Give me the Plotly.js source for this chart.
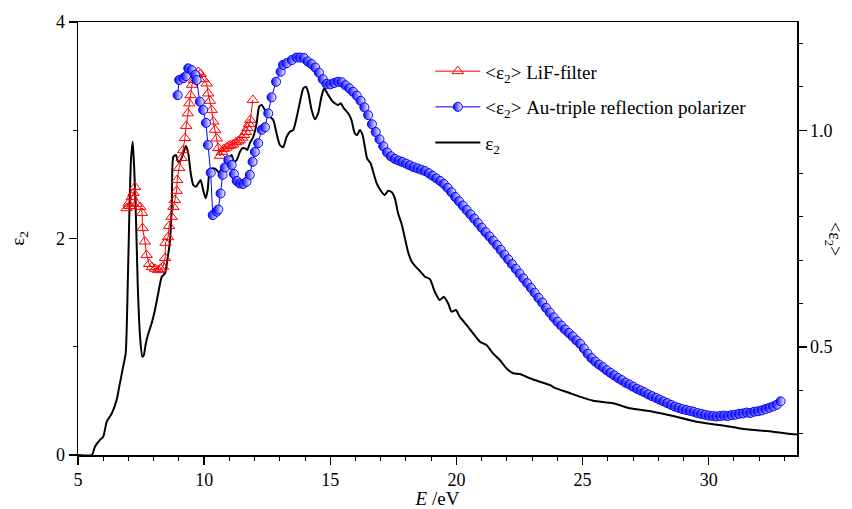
<!DOCTYPE html>
<html>
<head>
<meta charset="utf-8">
<script src="https://cdn.plot.ly/plotly-3.0.1.min.js"></script>
<style>html,body{margin:0;padding:0;background:#fff;}#chart{width:852px;height:509px;}</style>
</head>
<body>
<div id="chart"></div>
<script>
// Black curve: epsilon_2 (left axis)
const blackE = [5.00,5.55,5.67,5.87,6.00,6.14,6.34,6.53,6.66,6.79,6.89,6.97,7.03,7.10,7.17,7.23,7.30,7.37,7.46,7.55,7.61,7.69,7.79,7.92,8.05,8.18,8.32,8.45,8.54,8.65,8.72,8.78,8.88,8.97,9.07,9.17,9.28,9.37,9.47,9.57,9.68,9.77,9.86,9.96,10.06,10.14,10.23,10.36,10.50,10.60,10.69,10.82,10.96,11.09,11.18,11.29,11.42,11.51,11.62,11.71,11.81,11.95,12.08,12.18,12.28,12.41,12.54,12.74,12.87,13.00,13.13,13.27,13.40,13.53,13.66,13.80,13.93,14.03,14.12,14.26,14.39,14.52,14.65,14.76,14.88,15.05,15.18,15.31,15.41,15.54,15.71,15.84,15.97,16.07,16.17,16.28,16.37,16.46,16.60,16.70,16.84,17.03,17.16,17.29,17.43,17.56,17.69,17.82,17.96,18.09,18.22,18.35,18.55,18.75,18.95,19.14,19.34,19.50,19.67,19.81,19.98,20.13,20.40,20.66,20.93,21.19,21.45,21.72,21.98,22.25,22.51,22.91,23.30,23.70,23.90,24.40,24.89,25.42,26.21,26.87,27.79,28.59,29.51,30.44,31.49,32.55,33.28,33.50];
const blackEps = [0.000,0.000,0.077,0.139,0.169,0.308,0.385,0.508,0.662,0.816,0.939,1.555,2.171,2.725,2.894,2.633,2.171,1.555,1.093,0.908,0.924,1.032,1.124,1.217,1.339,1.494,1.647,1.679,1.801,1.986,2.325,2.756,2.771,2.709,2.725,2.787,2.854,2.787,2.602,2.494,2.479,2.510,2.540,2.448,2.371,2.448,2.633,2.648,2.633,2.602,2.648,2.633,2.725,2.771,2.709,2.725,2.802,2.833,2.833,2.818,2.879,2.940,3.064,3.218,3.233,3.187,3.141,3.095,2.972,2.864,2.842,2.940,2.987,3.002,3.110,3.264,3.387,3.402,3.356,3.187,3.101,3.157,3.310,3.387,3.341,3.279,3.249,3.233,3.249,3.203,3.157,3.095,2.972,2.956,3.002,2.956,2.848,2.741,2.694,2.617,2.510,2.432,2.402,2.440,2.430,2.371,2.230,2.140,2.000,1.870,1.790,1.750,1.700,1.647,1.625,1.509,1.432,1.462,1.401,1.324,1.339,1.278,1.201,1.124,1.047,1.016,0.939,0.878,0.801,0.755,0.748,0.709,0.677,0.647,0.620,0.580,0.539,0.502,0.478,0.431,0.400,0.360,0.308,0.277,0.237,0.215,0.194,0.190];

// Red triangles: <eps2> LiF-filter (right axis)
const redE = [6.93,7.00,7.04,7.13,7.20,7.26,7.32,7.46,7.54,7.56,7.65,7.72,7.82,7.93,8.05,8.18,8.27,8.37,8.45,8.47,8.57,8.61,8.71,8.78,8.84,8.91,8.93,9.01,9.11,9.17,9.24,9.29,9.35,9.41,9.46,9.52,9.60,9.68,9.77,9.86,9.96,10.10,10.16,10.23,10.30,10.36,10.43,10.50,10.56,10.63,10.71,10.78,10.89,10.98,11.06,11.15,11.26,11.34,11.42,11.50,11.58,11.66,11.72,11.78,11.83,11.93];
const redV = [0.820,0.831,0.825,0.846,0.855,0.869,0.830,0.823,0.809,0.774,0.743,0.712,0.691,0.684,0.680,0.677,0.680,0.685,0.705,0.740,0.753,0.779,0.800,0.823,0.839,0.860,0.885,0.913,0.936,0.954,0.982,1.010,1.039,1.062,1.081,1.105,1.116,1.128,1.135,1.130,1.118,1.108,1.085,1.068,1.047,1.020,1.001,0.981,0.959,0.941,0.950,0.957,0.960,0.964,0.965,0.967,0.972,0.974,0.977,0.983,0.989,0.996,1.005,1.014,1.024,1.070];

// Blue circles: <eps2> Au-triple reflection polarizer (right axis)
const blueE = [8.95,9.01,9.17,9.28,9.37,9.50,9.64,9.70,9.83,9.96,10.07,10.15,10.26,10.34,10.50,10.56,10.65,10.73,10.82,10.96,11.09,11.18,11.29,11.42,11.55,11.68,11.81,11.92,12.01,12.14,12.28,12.41,12.54,12.67,12.85,13.03,13.13,13.27,13.47,13.66,
13.80,13.95,14.10,14.25,14.40,14.55,14.70,14.85,15.00,15.15,15.30,15.45,15.60,15.75,15.90,16.05,16.20,16.35,16.50,16.65,16.80,16.95,17.10,17.25,17.40,17.55,17.70,17.85,18.00,18.15,18.30,18.45,18.60,18.75,18.90,19.05,19.20,19.35,19.50,19.65,19.80,19.95,20.10,20.25,20.40,20.55,20.70,20.85,21.00,21.15,21.30,21.45,21.60,21.75,21.90,22.05,22.20,22.35,22.50,22.65,22.80,22.95,23.10,23.25,23.40,23.55,23.70,23.85,24.00,24.15,24.30,24.45,24.60,24.75,24.90,25.05,25.20,25.35,25.50,25.65,25.80,25.95,26.10,26.25,26.40,26.55,26.70,26.85,27.00,27.15,27.30,27.45,27.60,27.75,27.90,28.05,28.20,28.35,28.50,28.65,28.80,28.95,29.10,29.25,29.40,29.55,29.70,29.85,30.00,30.15,30.30,30.45,30.60,30.75,30.90,31.05,31.20,31.35,31.50,31.65,31.80,31.95,32.10,32.25,32.40,32.55,32.70,32.85];
const blueV = [1.081,1.116,1.120,1.125,1.143,1.139,1.128,1.116,1.066,1.047,1.017,0.966,0.902,0.804,0.812,0.817,0.854,0.897,0.914,0.931,0.920,0.899,0.883,0.877,0.876,0.881,0.897,0.927,0.950,0.970,1.001,1.007,1.039,1.076,1.112,1.135,1.151,1.155,1.162,1.168,
1.168,1.167,1.159,1.153,1.145,1.133,1.118,1.107,1.106,1.109,1.112,1.111,1.104,1.097,1.089,1.080,1.068,1.053,1.035,1.014,0.996,0.979,0.963,0.949,0.940,0.934,0.930,0.927,0.923,0.919,0.915,0.912,0.909,0.906,0.901,0.895,0.889,0.883,0.876,0.867,0.857,0.846,0.836,0.826,0.816,0.806,0.796,0.786,0.775,0.765,0.755,0.745,0.735,0.724,0.713,0.702,0.691,0.680,0.669,0.658,0.647,0.636,0.625,0.613,0.602,0.590,0.579,0.568,0.558,0.549,0.540,0.532,0.524,0.515,0.507,0.496,0.484,0.474,0.466,0.459,0.453,0.446,0.440,0.434,0.428,0.423,0.417,0.413,0.408,0.403,0.399,0.395,0.390,0.386,0.382,0.378,0.374,0.370,0.366,0.362,0.359,0.356,0.354,0.352,0.350,0.347,0.345,0.343,0.341,0.340,0.339,0.340,0.341,0.340,0.342,0.343,0.345,0.346,0.348,0.347,0.350,0.351,0.353,0.356,0.359,0.362,0.366,0.374];

const xTickVals = [5,10,15,20,25,30];
const names = ['&lt;ε<sub>2</sub>&gt; LiF-filter', '&lt;ε<sub>2</sub>&gt; Au-triple reflection polarizer', 'ε<sub>2</sub>'];

const serif = 'Liberation Serif';

const traces = [
  {x: blackE, y: blackEps, mode: 'lines', name: names[2], yaxis: 'y', legendrank: 3, legendgroup: 'c',
   line: {color: '#000', width: 2, shape: 'spline', smoothing: 0.6}},
  {x: redE, y: redV, mode: 'lines+markers', name: names[0], yaxis: 'y2', legendrank: 1, legendgroup: 'a',
   line: {color: '#ff0000', width: 1},
   marker: {symbol: 'triangle-up-open', size: 10, color: '#ff0000', line: {width: 1, color: '#ff0000'}}},
  {x: blueE, y: blueV, mode: 'lines+markers', name: names[1], yaxis: 'y2', legendrank: 2, legendgroup: 'b',
   line: {color: '#0000ff', width: 1},
   marker: {symbol: 'circle', size: 9, color: '#0000ff', gradient: {type: 'horizontal', color: '#ffffff'}, line: {width: 1, color: '#0000ff'}}}
];

const axisCommon = {
  showline: true, linecolor: '#000', linewidth: 1.5, showgrid: false, zeroline: false,
  ticks: 'outside', ticklen: 8, tickwidth: 1.5, tickcolor: '#000',
  tickfont: {family: serif, size: 18, color: '#000'}
};

const layout = {
  width: 852, height: 509,
  margin: {l: 78, r: 55, t: 22, b: 54},
  paper_bgcolor: '#fff', plot_bgcolor: '#fff',
  font: {family: serif, color: '#000'},
  showlegend: true,
  legend: {x: 0.49, y: 0.93, xanchor: 'left', yanchor: 'top', bgcolor: 'rgba(0,0,0,0)',
    font: {family: serif, size: 19, color: '#000'}, tracegroupgap: 8, itemwidth: 45},
  xaxis: Object.assign({}, axisCommon, {
    range: [5, 33.5], tickvals: xTickVals, mirror: true,
    minor: {dtick: 1, tick0: 0, ticks: 'outside', ticklen: 4, tickwidth: 1, tickcolor: '#000'},
    title: {text: '<i>E</i> /eV', font: {family: serif, size: 19, color: '#000'}, standoff: 6}
  }),
  yaxis: Object.assign({}, axisCommon, {
    range: [0, 4], dtick: 2, tick0: 0,
    minor: {dtick: 1, ticks: 'outside', ticklen: 4, tickwidth: 1, tickcolor: '#000'},
    title: {text: 'ε<sub>2</sub>', font: {family: serif, size: 19, color: '#000'}, standoff: 26}
  }),
  yaxis2: Object.assign({}, axisCommon, {
    overlaying: 'y', side: 'right', range: [0.25, 1.25], dtick: 0.5, tick0: 0, tickformat: '.1f',
    minor: {dtick: 0.1, ticks: 'outside', ticklen: 4, tickwidth: 1, tickcolor: '#000'}
  }),
  annotations: [{
    text: '&lt;ε<sub>2</sub>&gt;', xref: 'paper', yref: 'paper', x: 1.0, xshift: 50, y: 0.5,
    textangle: 90, showarrow: false, font: {family: serif, size: 18, color: '#000'}
  }]
};

Plotly.newPlot('chart', traces, layout, {displayModeBar: false, staticPlot: true});
</script>
</body>
</html>
